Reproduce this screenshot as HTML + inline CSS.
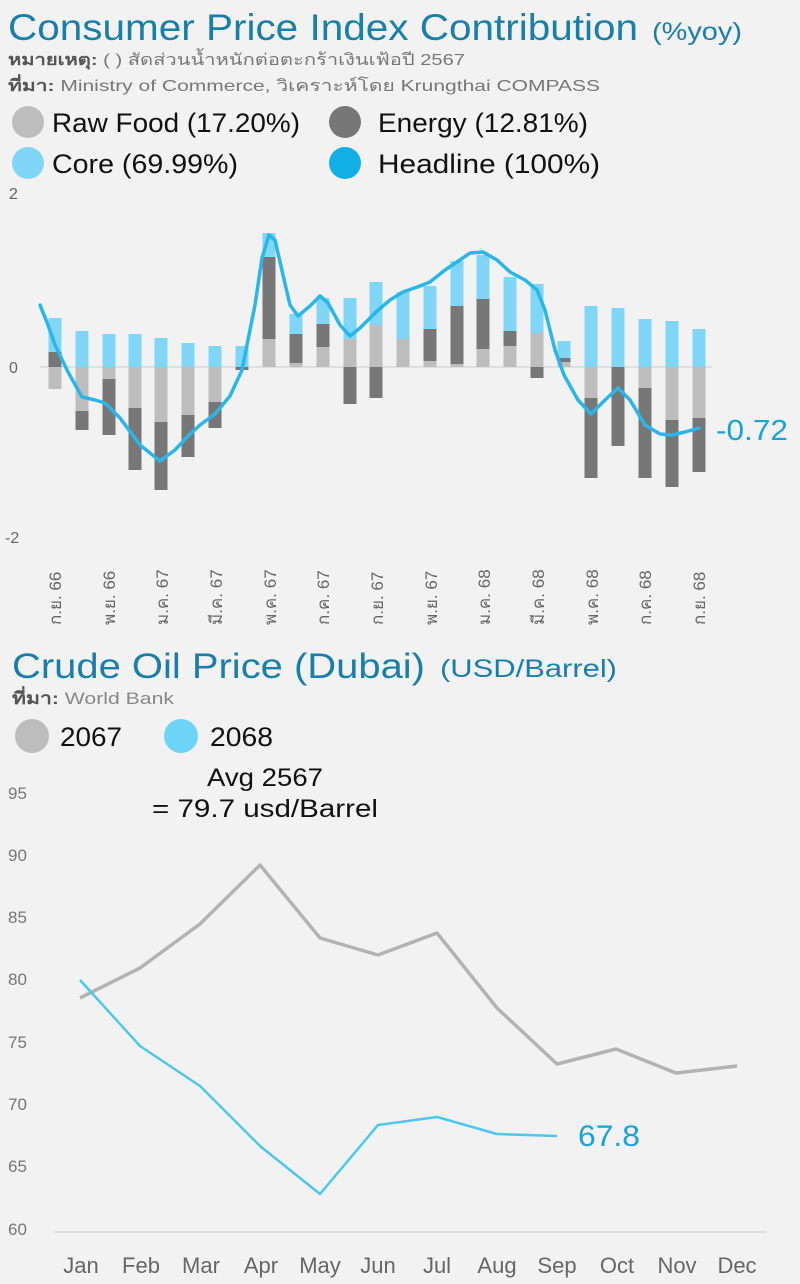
<!DOCTYPE html>
<html><head><meta charset="utf-8"><style>
html,body{margin:0;padding:0;background:#f2f2f2;}
svg{display:block;font-family:"Liberation Sans","Noto Sans CJK SC",sans-serif;}
</style></head><body>
<svg width="800" height="1284" viewBox="0 0 800 1284" xmlns="http://www.w3.org/2000/svg">
<rect width="800" height="1284" fill="#f2f2f2"/>
<!-- Title 1 -->
<text x="8" y="40" font-size="37" fill="#1a7fa8" textLength="630" lengthAdjust="spacingAndGlyphs">Consumer Price Index Contribution</text>
<text x="652" y="40" font-size="25" fill="#1a7fa8" textLength="90" lengthAdjust="spacingAndGlyphs">(%yoy)</text>
<text x="8" y="65" font-size="16" fill="#777" textLength="457" lengthAdjust="spacingAndGlyphs"><tspan font-weight="bold" fill="#555">หมายเหตุ:</tspan> ( ) สัดส่วนน้ำหนักต่อตะกร้าเงินเฟ้อปี 2567</text>
<text x="8" y="91" font-size="16" fill="#777" textLength="592" lengthAdjust="spacingAndGlyphs"><tspan font-weight="bold" fill="#555">ที่มา:</tspan> Ministry of Commerce, วิเคราะห์โดย Krungthai COMPASS</text>
<!-- legend -->
<circle cx="28" cy="122" r="16" fill="#bdbdbd"/>
<text x="52" y="132" font-size="27" fill="#111" textLength="248" lengthAdjust="spacingAndGlyphs">Raw Food (17.20%)</text>
<circle cx="345" cy="122" r="16" fill="#777"/>
<text x="378" y="132" font-size="27" fill="#111" textLength="210" lengthAdjust="spacingAndGlyphs">Energy (12.81%)</text>
<circle cx="28" cy="163" r="16" fill="#7fd6f7"/>
<text x="52" y="173" font-size="27" fill="#111" textLength="186" lengthAdjust="spacingAndGlyphs">Core (69.99%)</text>
<circle cx="345" cy="163" r="16" fill="#12aee6"/>
<text x="378" y="173" font-size="27" fill="#111" textLength="222" lengthAdjust="spacingAndGlyphs">Headline (100%)</text>
<!-- axis top -->
<g font-size="16" fill="#666">
<text x="9" y="199">2</text><text x="9" y="373">0</text><text x="5" y="543">-2</text>
</g>
<line x1="40" y1="367" x2="712" y2="367" stroke="#cfcfcf" stroke-width="1"/>
<g>
<!-- bars: raw #bdbdbd, energy #777, core #7fd6f7 -->
<rect x="48.5" y="352" width="13" height="15" fill="#777"/><rect x="48.5" y="318" width="13" height="34" fill="#7fd6f7"/><rect x="48.5" y="367" width="13" height="22" fill="#bdbdbd"/>
<rect x="75.5" y="331" width="13" height="36" fill="#7fd6f7"/><rect x="75.5" y="367" width="13" height="44" fill="#bdbdbd"/><rect x="75.5" y="411" width="13" height="19" fill="#777"/>
<rect x="102.5" y="334" width="13" height="33" fill="#7fd6f7"/><rect x="102.5" y="367" width="13" height="12" fill="#bdbdbd"/><rect x="102.5" y="379" width="13" height="56" fill="#777"/>
<rect x="128.5" y="334" width="13" height="33" fill="#7fd6f7"/><rect x="128.5" y="367" width="13" height="41" fill="#bdbdbd"/><rect x="128.5" y="408" width="13" height="62" fill="#777"/>
<rect x="154.5" y="338" width="13" height="29" fill="#7fd6f7"/><rect x="154.5" y="367" width="13" height="55" fill="#bdbdbd"/><rect x="154.5" y="422" width="13" height="68" fill="#777"/>
<rect x="181.5" y="343" width="13" height="24" fill="#7fd6f7"/><rect x="181.5" y="367" width="13" height="48" fill="#bdbdbd"/><rect x="181.5" y="415" width="13" height="42" fill="#777"/>
<rect x="208.5" y="346" width="13" height="21" fill="#7fd6f7"/><rect x="208.5" y="367" width="13" height="35" fill="#bdbdbd"/><rect x="208.5" y="402" width="13" height="26" fill="#777"/>
<rect x="235.5" y="346" width="13" height="21" fill="#7fd6f7"/><rect x="235.5" y="367" width="13" height="3" fill="#777"/>
<rect x="262.5" y="339" width="13" height="28" fill="#bdbdbd"/><rect x="262.5" y="257" width="13" height="82" fill="#777"/><rect x="262.5" y="233" width="13" height="24" fill="#7fd6f7"/>
<rect x="289.5" y="363" width="13" height="4" fill="#bdbdbd"/><rect x="289.5" y="334" width="13" height="29" fill="#777"/><rect x="289.5" y="314" width="13" height="20" fill="#7fd6f7"/>
<rect x="316.5" y="347" width="13" height="20" fill="#bdbdbd"/><rect x="316.5" y="324" width="13" height="23" fill="#777"/><rect x="316.5" y="298" width="13" height="26" fill="#7fd6f7"/>
<rect x="343.5" y="339" width="13" height="28" fill="#bdbdbd"/><rect x="343.5" y="298" width="13" height="41" fill="#7fd6f7"/><rect x="343.5" y="367" width="13" height="37" fill="#777"/>
<rect x="369.5" y="325" width="13" height="42" fill="#bdbdbd"/><rect x="369.5" y="282" width="13" height="43" fill="#7fd6f7"/><rect x="369.5" y="367" width="13" height="31" fill="#777"/>
<rect x="396.5" y="339" width="13" height="28" fill="#bdbdbd"/><rect x="396.5" y="292" width="13" height="47" fill="#7fd6f7"/>
<rect x="423.5" y="361" width="13" height="6" fill="#bdbdbd"/><rect x="423.5" y="329" width="13" height="32" fill="#777"/><rect x="423.5" y="286" width="13" height="43" fill="#7fd6f7"/>
<rect x="450.5" y="364" width="13" height="3" fill="#bdbdbd"/><rect x="450.5" y="306" width="13" height="58" fill="#777"/><rect x="450.5" y="261" width="13" height="45" fill="#7fd6f7"/>
<rect x="476.5" y="349" width="13" height="18" fill="#bdbdbd"/><rect x="476.5" y="299" width="13" height="50" fill="#777"/><rect x="476.5" y="255" width="13" height="44" fill="#7fd6f7"/>
<rect x="503.5" y="346" width="13" height="21" fill="#bdbdbd"/><rect x="503.5" y="331" width="13" height="15" fill="#777"/><rect x="503.5" y="277" width="13" height="54" fill="#7fd6f7"/>
<rect x="530.5" y="333" width="13" height="34" fill="#bdbdbd"/><rect x="530.5" y="284" width="13" height="49" fill="#7fd6f7"/><rect x="530.5" y="367" width="13" height="11" fill="#777"/>
<rect x="557.5" y="362" width="13" height="5" fill="#bdbdbd"/><rect x="557.5" y="358" width="13" height="4" fill="#777"/><rect x="557.5" y="341" width="13" height="17" fill="#7fd6f7"/>
<rect x="584.5" y="306" width="13" height="61" fill="#7fd6f7"/><rect x="584.5" y="367" width="13" height="31" fill="#bdbdbd"/><rect x="584.5" y="398" width="13" height="80" fill="#777"/>
<rect x="611.5" y="308" width="13" height="59" fill="#7fd6f7"/><rect x="611.5" y="367" width="13" height="79" fill="#777"/>
<rect x="638.5" y="319" width="13" height="48" fill="#7fd6f7"/><rect x="638.5" y="367" width="13" height="21" fill="#bdbdbd"/><rect x="638.5" y="388" width="13" height="90" fill="#777"/>
<rect x="665.5" y="321" width="13" height="46" fill="#7fd6f7"/><rect x="665.5" y="367" width="13" height="53" fill="#bdbdbd"/><rect x="665.5" y="420" width="13" height="67" fill="#777"/>
<rect x="692.5" y="329" width="13" height="38" fill="#7fd6f7"/><rect x="692.5" y="367" width="13" height="51" fill="#bdbdbd"/><rect x="692.5" y="418" width="13" height="54" fill="#777"/>
</g>
<polyline fill="none" stroke="#29b6e8" stroke-width="3.5" stroke-linejoin="round" stroke-linecap="round" points="40,305 48,325 55,345 68,372 82,397 95,400 105,403 120,418 140,445 160,461 175,450 188,436 200,425 215,414 230,396 242,370 255,305 262,258 269,235 275,240 283,275 290,305 298,316 310,306 320,296 328,303 340,325 350,336 360,328 376,312 390,300 403,292 420,286 430,282 445,270 457,262 470,253 483,252 497,260 510,272 525,280 537,290 545,310 555,350 564,375 578,400 591,414 605,400 618,388 630,400 645,425 660,434 672,435 685,432 699,428"/>
<text x="716" y="440" font-size="29" fill="#1aa3d6" textLength="72" lengthAdjust="spacingAndGlyphs">-0.72</text>
<!-- rotated x labels -->
<g font-size="17" fill="#666">
<text transform="translate(61,625) rotate(-90)">ก.ย. 66</text>
<text transform="translate(115,625) rotate(-90)">พ.ย. 66</text>
<text transform="translate(168,625) rotate(-90)">ม.ค. 67</text>
<text transform="translate(222,625) rotate(-90)">มี.ค. 67</text>
<text transform="translate(276,625) rotate(-90)">พ.ค. 67</text>
<text transform="translate(329,625) rotate(-90)">ก.ค. 67</text>
<text transform="translate(383,625) rotate(-90)">ก.ย. 67</text>
<text transform="translate(437,625) rotate(-90)">พ.ย. 67</text>
<text transform="translate(490,625) rotate(-90)">ม.ค. 68</text>
<text transform="translate(544,625) rotate(-90)">มี.ค. 68</text>
<text transform="translate(598,625) rotate(-90)">พ.ค. 68</text>
<text transform="translate(651,625) rotate(-90)">ก.ค. 68</text>
<text transform="translate(705,625) rotate(-90)">ก.ย. 68</text>
</g>
<!-- Title 2 -->
<text x="12" y="678" font-size="35" fill="#1a7fa8" textLength="413" lengthAdjust="spacingAndGlyphs">Crude Oil Price (Dubai)</text>
<text x="440" y="677" font-size="25" fill="#1a7fa8" textLength="177" lengthAdjust="spacingAndGlyphs">(USD/Barrel)</text>
<text x="12" y="704" font-size="17" fill="#888" textLength="162" lengthAdjust="spacingAndGlyphs"><tspan font-weight="bold" fill="#555">ที่มา:</tspan> World Bank</text>
<circle cx="32" cy="736" r="17" fill="#bdbdbd"/>
<text x="60" y="746" font-size="27" fill="#111" textLength="62" lengthAdjust="spacingAndGlyphs">2067</text>
<circle cx="181" cy="736" r="17" fill="#6dd3f7"/>
<text x="210" y="746" font-size="27" fill="#111" textLength="63" lengthAdjust="spacingAndGlyphs">2068</text>
<text x="207" y="786" font-size="25" fill="#111" textLength="116" lengthAdjust="spacingAndGlyphs">Avg 2567</text>
<text x="152" y="817" font-size="25" fill="#111" textLength="226" lengthAdjust="spacingAndGlyphs">= 79.7 usd/Barrel</text>
<g font-size="17" fill="#777">
<text x="8" y="799">95</text><text x="8" y="861">90</text><text x="8" y="923">85</text><text x="8" y="985">80</text><text x="8" y="1048">75</text><text x="8" y="1110">70</text><text x="8" y="1172">65</text><text x="8" y="1235">60</text>
</g>
<line x1="54" y1="1232" x2="767" y2="1232" stroke="#cfcfcf" stroke-width="1"/>
<polyline fill="none" stroke="#b3b3b3" stroke-width="3.5" stroke-linejoin="round" points="80,998 140,968 200,924 260,865 320,938 378,955 437,933 497,1008 557,1064 616,1049 676,1073 737,1066"/>
<polyline fill="none" stroke="#4cc8ee" stroke-width="2.5" stroke-linejoin="round" points="80,980 140,1046 200,1086 260,1146 320,1194 378,1125 437,1117 497,1134 557,1136"/>
<text x="578" y="1146" font-size="30" fill="#1aa3d6" textLength="62" lengthAdjust="spacingAndGlyphs">67.8</text>
<g font-size="22" fill="#666" text-anchor="middle">
<text x="81" y="1273">Jan</text><text x="141" y="1273">Feb</text><text x="201" y="1273">Mar</text><text x="261" y="1273">Apr</text><text x="320" y="1273">May</text><text x="378" y="1273">Jun</text><text x="437" y="1273">Jul</text><text x="497" y="1273">Aug</text><text x="557" y="1273">Sep</text><text x="617" y="1273">Oct</text><text x="677" y="1273">Nov</text><text x="737" y="1273">Dec</text>
</g>
</svg>
</body></html>
